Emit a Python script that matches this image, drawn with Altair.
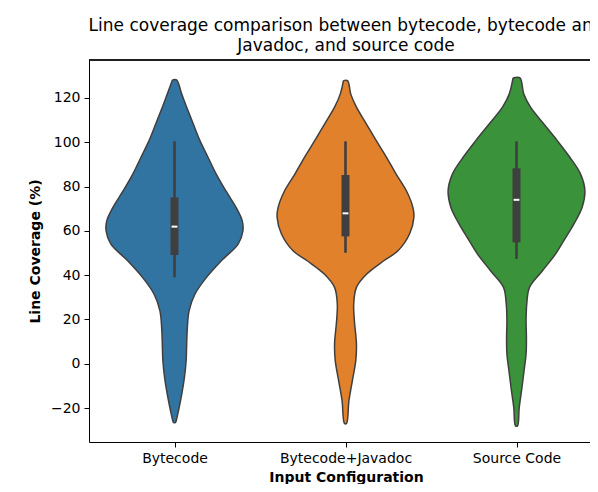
import altair as alt
import pandas as pd

categories = ["Bytecode", "Bytecode+Javadoc", "Source Code"]
colors = ["#3274a1", "#e1812c", "#3a923a"]

# violin outlines: coverage level and relative density (1 = widest)
bytecode_y = [128.1, 121.7, 115.8, 108.2, 100.7, 93.2, 85.6, 78.1, 70.6, 64.6, 60.0, 54.0, 46.5,
              39.0, 31.5, 23.9, 16.4, 8.9, 1.4, -6.1, -13.7, -21.2, -25.7, -26.5]
bytecode_d = [0.03, 0.106, 0.178, 0.275, 0.372, 0.49, 0.61, 0.75, 0.90, 0.99, 1.0, 0.93, 0.685,
              0.468, 0.30, 0.213, 0.188, 0.178, 0.17, 0.145, 0.106, 0.058, 0.025, 0.015]

javadoc_y = [127.8, 121.7, 115.8, 108.2, 100.7, 93.2, 85.6, 78.1, 70.6, 66.1, 58.6, 51.0, 46.5,
             40.5, 34.5, 27.0, 19.4, 8.9, 1.4, -7.7, -16.7, -26.9]
javadoc_d = [0.03, 0.077, 0.16, 0.306, 0.45, 0.60, 0.74, 0.89, 0.985, 1.0, 0.936, 0.767, 0.56,
             0.31, 0.16, 0.12, 0.13, 0.16, 0.15, 0.10, 0.05, 0.015]

source_y = [129.0, 121.7, 115.8, 108.2, 100.7, 93.2, 85.6, 78.1, 70.6, 63.1, 55.5, 49.5, 42.0,
            34.5, 27.0, 19.4, 11.9, 4.4, -3.2, -10.7, -19.7, -28.0]
source_d = [0.05, 0.107, 0.205, 0.40, 0.596, 0.78, 0.937, 1.0, 0.96, 0.84, 0.69, 0.57, 0.38,
            0.19, 0.15, 0.14, 0.145, 0.14, 0.11, 0.08, 0.04, 0.015]

# inner box statistics
whisker_low = [39.0, 50.1, 47.3]
whisker_high = [100.4, 100.4, 100.4]
q1 = [49.1, 57.5, 54.8]
q3 = [75.1, 85.2, 88.2]
median = [61.9, 67.9, 74.0]

# closed outline per violin: down the left side, back up the right side
rows = []
for i, (ys, ds) in enumerate([(bytecode_y, bytecode_d), (javadoc_y, javadoc_d), (source_y, source_d)]):
    n = 0
    for y, d in zip(ys, ds):
        rows.append({"cat": categories[i], "idx": i, "y": y, "d": -d, "o": n})
        n += 1
    for y, d in zip(reversed(ys), reversed(ds)):
        rows.append({"cat": categories[i], "idx": i, "y": y, "d": d, "o": n})
        n += 1
    rows.append({"cat": categories[i], "idx": i, "y": ys[0], "d": -ds[0], "o": n})
violin_df = pd.DataFrame(rows)

box_df = pd.DataFrame({
    "cat": categories, "idx": [0, 1, 2],
    "lo": whisker_low, "hi": whisker_high, "q1": q1, "q3": q3, "med": median,
})

W, H = 501, 382
xscale = alt.Scale(domain=[-0.5, -0.5 + W / 171.0], nice=False, zero=False)
yscale = alt.Scale(domain=[-35.3, 137.1], nice=False, zero=False)
label_expr = "['Bytecode','Bytecode+Javadoc','Source Code'][datum.value]"

x_axis = alt.Axis(values=[0, 1, 2], labelExpr=label_expr, title="Input Configuration",
                  grid=False, tickSize=5, labelPadding=4, titleX=257, titleY=39,
                  titleAlign="center", titleBaseline="alphabetic")
y_axis = alt.Axis(values=[-20, 0, 20, 40, 60, 80, 100, 120], title="Line Coverage (%)",
                  grid=False, tickSize=5, labelPadding=4, titleX=-54, titleY=H / 2,
                  titleAngle=-90, titleBaseline="middle", titleAlign="center")

layers = []
for i, cat in enumerate(categories):
    layers.append(
        alt.Chart(violin_df).transform_filter(alt.datum.cat == cat).transform_calculate(
            xv="datum.idx + 0.4 * datum.d"
        ).mark_line(interpolate="catmull-rom", fill=colors[i], stroke="#3f3f3f",
                    strokeWidth=1.5, fillOpacity=1).encode(
            x=alt.X("xv:Q", scale=xscale, axis=x_axis),
            y=alt.Y("y:Q", scale=yscale, axis=y_axis),
            order="o:Q",
        )
    )

whiskers = alt.Chart(box_df).mark_rule(color="#3f3f3f", strokeWidth=2.6).encode(
    x=alt.X("idx:Q", scale=xscale), y=alt.Y("lo:Q", scale=yscale), y2="hi:Q"
)
boxes = alt.Chart(box_df).mark_rule(color="#3f3f3f", strokeWidth=8).encode(
    x=alt.X("idx:Q", scale=xscale), y=alt.Y("q1:Q", scale=yscale), y2="q3:Q"
)
medians = alt.Chart(box_df).transform_calculate(
    ml="datum.idx - 0.017", mr="datum.idx + 0.017"
).mark_rule(color="white", strokeWidth=2).encode(
    x=alt.X("ml:Q", scale=xscale), x2="mr:Q", y=alt.Y("med:Q", scale=yscale)
)
top_border = alt.Chart(box_df).mark_rule(color="black", strokeWidth=1).encode(
    x=alt.value(0), x2=alt.value(W), y=alt.value(0)
)

chart = alt.layer(*layers, whiskers, boxes, medians, top_border).properties(
    width=W, height=H,
    title=alt.TitleParams(
        ["Line coverage comparison between bytecode, bytecode and", "Javadoc, and source code"],
        fontSize=17, font="DejaVu Sans", fontWeight="normal", color="black",
        lineHeight=20, anchor="middle", dx=6.5, offset=5,
    ),
    autosize=alt.AutoSizeParams(type="none"),
    padding={"left": 81, "top": 52, "right": 0, "bottom": 42},
).configure_view(stroke=None).configure_axis(
    labelFont="DejaVu Sans", titleFont="DejaVu Sans", labelFontSize=14, titleFontSize=14,
    labelColor="black", titleColor="black", titleFontWeight="bold",
    domainColor="black", tickColor="black", domainWidth=1, tickWidth=1,
)

chart.save("out.html", embed_options={"renderer": "svg", "actions": False})
